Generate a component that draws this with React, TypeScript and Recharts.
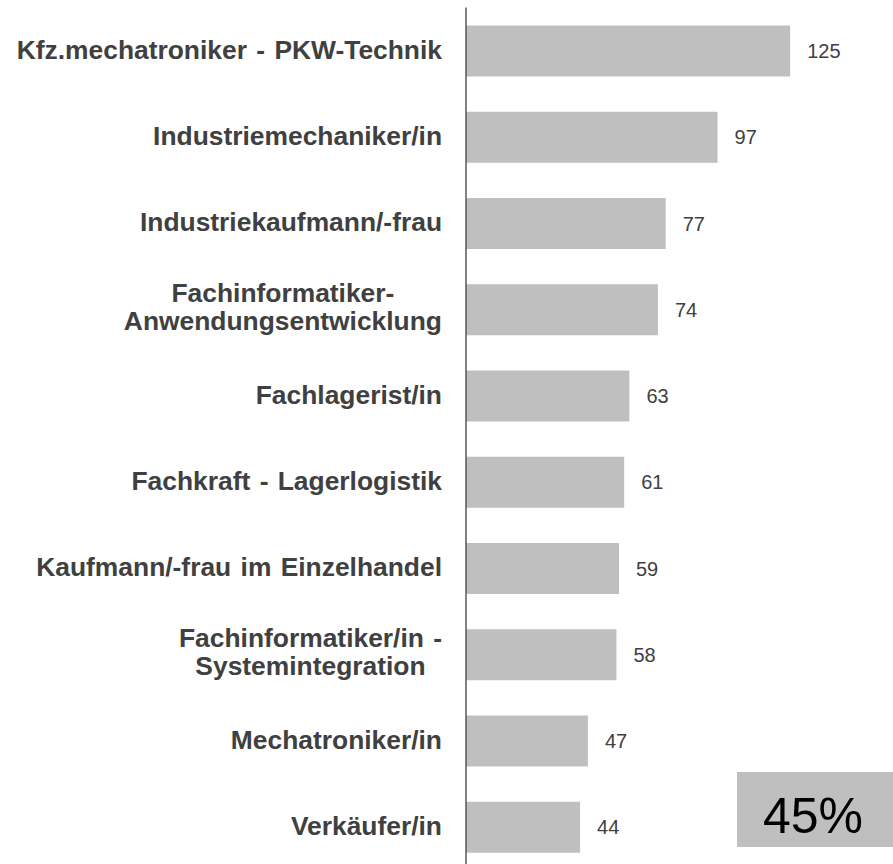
import React from "react";
import { BarChart, Bar, XAxis, YAxis, LabelList } from "recharts";

const categories: string[] = [
  "Kfz.mechatroniker - PKW-Technik",
  "Industriemechaniker/in",
  "Industriekaufmann/-frau",
  "Fachinformatiker-\nAnwendungsentwicklung",
  "Fachlagerist/in",
  "Fachkraft - Lagerlogistik",
  "Kaufmann/-frau im Einzelhandel",
  "Fachinformatiker/in -\nSystemintegration",
  "Mechatroniker/in",
  "Verkäufer/in",
];
const values: number[] = [125, 97, 77, 74, 63, 61, 59, 58, 47, 44];
const shareLabel = "45%";

const data = categories.map((name, i) => ({ name, value: values[i] }));

const FONT = '"Liberation Sans", Arial, sans-serif';
const LABEL_SIZE = 26.4;
const WORD_SPACING = 2;
const TEXT_COLOR = "#404040";

let ctx: CanvasRenderingContext2D | null = null;
function measure(text: string): number {
  if (!ctx) {
    const c = document.createElement("canvas");
    ctx = c.getContext("2d");
  }
  const spaces = (text.match(/ /g) || []).length;
  if (!ctx) return text.length * LABEL_SIZE * 0.55 + spaces * WORD_SPACING;
  ctx.font = `bold ${LABEL_SIZE}px ${FONT}`;
  return ctx.measureText(text).width + spaces * WORD_SPACING;
}

function CategoryTick(props: any) {
  const { x, y, payload } = props;
  const lines = String(payload.value).split("\n");
  const common = {
    fill: TEXT_COLOR,
    fontFamily: FONT,
    fontSize: LABEL_SIZE,
    fontWeight: "bold" as const,
    wordSpacing: WORD_SPACING,
  };
  if (lines.length === 1) {
    return (
      <text x={x} y={y + 8} textAnchor="end" {...common}>
        {lines[0]}
      </text>
    );
  }
  const maxW = Math.max(...lines.map(measure));
  const cx = x - maxW / 2;
  return (
    <text textAnchor="middle" {...common}>
      {lines.map((l, i) => (
        <tspan key={i} x={cx} y={y - 6.9 + i * 28}>
          {l}
        </tspan>
      ))}
    </text>
  );
}

export default function App() {
  return (
    <div
      style={{
        position: "absolute",
        left: 0,
        top: 0,
        width: 893,
        height: 864,
        overflow: "hidden",
        background: "#ffffff",
      }}
    >
      <BarChart
        width={893}
        height={870}
        data={data}
        layout="vertical"
        margin={{ top: 7.5, right: 38, bottom: 0, left: 0 }}
        barCategoryGap={0}
      >
        <XAxis type="number" domain={[0, 150]} hide />
        <YAxis
          type="category"
          dataKey="name"
          width={466}
          axisLine={{ stroke: "#404040", strokeWidth: 1.3 }}
          tickLine={false}
          tickSize={0}
          tickMargin={24}
          tick={<CategoryTick />}
          interval={0}
        />
        <Bar dataKey="value" fill="#bfbfbf" barSize={51} isAnimationActive={false}>
          <LabelList
            dataKey="value"
            position="right"
            offset={17}
            fill={TEXT_COLOR}
            fontSize={20}
            fontFamily={FONT}
          />
        </Bar>
      </BarChart>
      <svg
        width={156}
        height={75}
        style={{ position: "absolute", left: 737, top: 772 }}
      >
        <rect x={0} y={0} width={156} height={75} fill="#bfbfbf" />
        <text
          x={76}
          y={61}
          textAnchor="middle"
          fontFamily={FONT}
          fontSize={50}
          fill="#000000"
        >
          {shareLabel}
        </text>
      </svg>
    </div>
  );
}
